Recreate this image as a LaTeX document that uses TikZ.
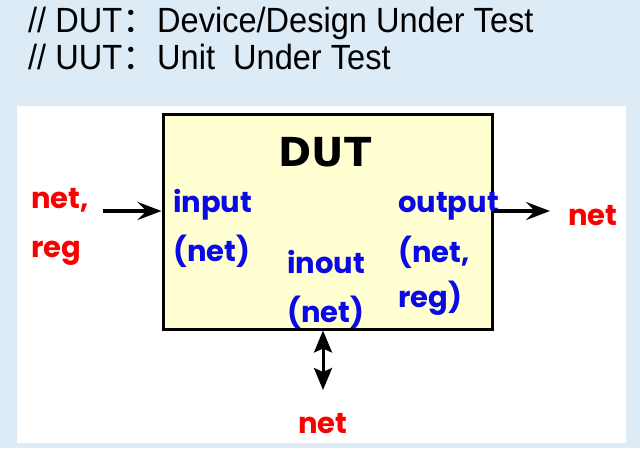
\documentclass[tikz,border=0pt]{standalone}
\usepackage{fontspec}
\usetikzlibrary{arrows.meta}
\newfontfamily\headfont[FakeStretch=0.93]{Liberation Sans}
\newfontfamily\cjk{Noto Sans CJK SC}
\newfontfamily\comic{Poppins}
\newfontfamily\titlefont{DejaVu Sans}
\definecolor{bgblue}{RGB}{221,235,247}
\definecolor{boxfill}{RGB}{255,255,210}
\definecolor{lblred}{RGB}{250,0,0}
\definecolor{lblblue}{RGB}{10,10,230}
\tikzset{
  head/.style={anchor=base west, inner sep=0pt, font=\headfont\fontsize{35}{38}\selectfont},
  lbl/.style={anchor=base west, inner sep=0pt, font=\comic\bfseries\fontsize{29}{32}\selectfont},
  redlbl/.style={lbl, text=lblred},
  bluelbl/.style={lbl, text=lblblue},
  dutbox/.style={draw=black, fill=boxfill, line width=3pt, minimum width=329pt, minimum height=215pt, inner sep=0pt},
  harrow/.style={line width=4pt, -{Stealth[length=24pt, width=18pt, inset=9pt]}},
  varrow/.style={line width=3pt, {Stealth[length=22pt, width=18pt, inset=4pt]}-{Stealth[length=22pt, width=18pt, inset=4pt]}}
}
\begin{document}
\begin{tikzpicture}[x=1pt, y=-1pt]
\useasboundingbox (0,0) rectangle (640,448);
\fill[bgblue] (0,0) rectangle (640,448);
\fill[white] (17,106) rectangle (626,443);
\node[head] (l1) at (28,32) {// DUT{\cjk：}Device/Design Under Test};
\node[head] (l2) at (28,69) {// UUT{\cjk：}Unit\ \ Under Test};
\node[dutbox] (box) at (327.5,221.5) {};
\node[anchor=base, inner sep=0pt, font=\titlefont\bfseries\fontsize{40}{44}\selectfont] (title) at (325,166) {DUT};
\node[redlbl] (netin) at (31,208) {net,};
\node[redlbl] (regin) at (31,257) {reg};
\node[bluelbl] (input) at (173,212) {input};
\node[bluelbl] (inputnet) at (173,261) {(net)};
\node[bluelbl] (inout) at (287,273) {inout};
\node[bluelbl] (inoutnet) at (287,322) {(net)};
\node[bluelbl] (output) at (398,212) {output};
\node[bluelbl] (outnet) at (398,262) {(net,};
\node[bluelbl] (outreg) at (398,307) {reg)};
\node[redlbl] (netout) at (568,225) {net};
\node[redlbl, anchor=base] (netbot) at (323,433) {net};
\coordinate (inL) at (103,211);
\coordinate (outR) at (550,211);
\coordinate (botE) at (323,390);
\draw[harrow] (inL) -- (inL -| box.west);
\draw[harrow] (outR -| box.east) -- (outR);
\draw[varrow] (botE |- box.south) -- (botE);
\end{tikzpicture}
\end{document}
